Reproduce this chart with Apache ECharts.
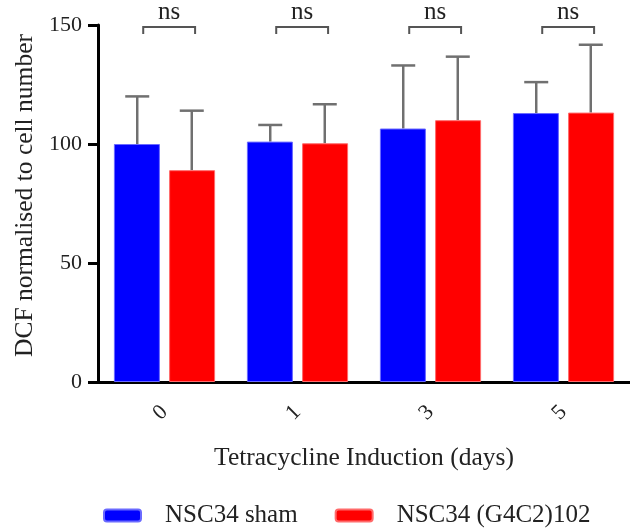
<!DOCTYPE html>
<html>
<head>
<meta charset="utf-8">
<script src="https://cdn.jsdelivr.net/npm/echarts@6/dist/echarts.min.js"></script>
<style>
  html, body { margin: 0; padding: 0; background: #fff; }
  #chart { width: 630px; height: 530px; }
</style>
</head>
<body>
<div id="chart"></div>
<script>
// data
var days = ['0', '1', '3', '5'];
var shamMean = [100, 101, 106.5, 113];
var shamUpper = [120, 108, 133, 126];
var g4c2Mean = [89, 100.3, 110, 113.2];
var g4c2Upper = [114, 116.7, 136.7, 141.7];
var sigLabels = ['ns', 'ns', 'ns', 'ns'];
var sigLevel = [150, 150, 150, 150];

var FONT = '"Liberation Serif", "DejaVu Serif", serif';
var chart = echarts.init(document.getElementById('chart'));

// whisker (upper only) + cap
function errorBar(side) {
	return function (params, api) {
		var i = api.value(0);
		var bw = api.size([1, 0])[0];
		var base = api.coord([i, api.value(1)]);
		var top = api.coord([i, api.value(2)]);
		var x = base[0] + side * bw * 0.205;
		var half = 12;
		return {
			type: 'group',
			children: [
				{ type: 'line', shape: { x1: x, y1: base[1], x2: x, y2: top[1] },
					style: { stroke: '#707070', lineWidth: 2.5 } },
				{ type: 'line', shape: { x1: x - half, y1: top[1], x2: x + half, y2: top[1] },
					style: { stroke: '#707070', lineWidth: 2.5 } }
			]
		};
	};
}

function bracket(params, api) {
	var i = api.value(0);
	var bw = api.size([1, 0])[0];
	var p = api.coord([i, api.value(1)]);
	var x1 = p[0] - bw * 0.16, x2 = p[0] + bw * 0.23;
	var y = p[1] + 2;
	return {
		type: 'group',
		children: [
			{ type: 'polyline', shape: { points: [[x1, y + 7], [x1, y], [x2, y], [x2, y + 7]] },
				style: { stroke: '#555', lineWidth: 2, fill: null } },
			{ type: 'text', x: (x1 + x2) / 2, y: y - 2,
				style: { text: sigLabels[params.dataIndex], font: '25px ' + FONT, fill: '#222',
					align: 'center', verticalAlign: 'bottom' } }
		]
	};
}

var option = {
	backgroundColor: '#fff',
	animation: false,
	grid: { left: 98, top: 25, width: 536, bottom: 148 },
	legend: {
		top: 498,
		left: 98,
		itemWidth: 37,
		itemHeight: 12,
		itemGap: 37,
		textStyle: { fontFamily: FONT, fontSize: 25, color: '#222', padding: [0, 0, 0, 19] },
		data: ['NSC34 sham', 'NSC34 (G4C2)102']
	},
	xAxis: {
		type: 'category',
		data: days,
		name: 'Tetracycline Induction (days)',
		nameLocation: 'middle',
		nameGap: 63,
		nameTextStyle: { fontFamily: FONT, fontSize: 25.5, color: '#222' },
		axisLine: { lineStyle: { color: '#000', width: 3 } },
		axisTick: { alignWithLabel: true, length: 10, lineStyle: { color: '#000', width: 3 } },
		axisLabel: { rotate: 45, margin: 27, fontFamily: FONT, fontSize: 22, color: '#222' }
	},
	yAxis: {
		type: 'value',
		min: 0,
		max: 150,
		interval: 50,
		name: 'DCF normalised to cell number',
		nameLocation: 'middle',
		nameGap: 58,
		nameTextStyle: { fontFamily: FONT, fontSize: 25.5, color: '#222', padding: [0, 0, 0, 16] },
		axisLine: { show: true, lineStyle: { color: '#000', width: 3 } },
		axisTick: { show: true, length: 10, lineStyle: { color: '#000', width: 3 } },
		splitLine: { show: false },
		axisLabel: { margin: 16, fontFamily: FONT, fontSize: 22, color: '#222' }
	},
	series: [
		{
			name: 'NSC34 sham',
			type: 'bar',
			data: shamMean,
			barWidth: 46,
			barGap: '20%',
			itemStyle: { color: '#0000ff', borderColor: '#6a6aff', borderWidth: 1 }
		},
		{
			name: 'NSC34 (G4C2)102',
			type: 'bar',
			data: g4c2Mean,
			barWidth: 46,
			itemStyle: { color: '#ff0000', borderColor: '#ff6a6a', borderWidth: 1 }
		},
		{
			type: 'custom',
			renderItem: errorBar(-1),
			data: days.map(function (d, i) { return [i, shamMean[i], shamUpper[i]]; }),
			z: 1
		},
		{
			type: 'custom',
			renderItem: errorBar(1),
			data: days.map(function (d, i) { return [i, g4c2Mean[i], g4c2Upper[i]]; }),
			z: 1
		},
		{
			type: 'custom',
			renderItem: bracket,
			data: days.map(function (d, i) { return [i, sigLevel[i]]; }),
			clip: false
		}
	]
};
chart.setOption(option);
</script>
</body>
</html>
